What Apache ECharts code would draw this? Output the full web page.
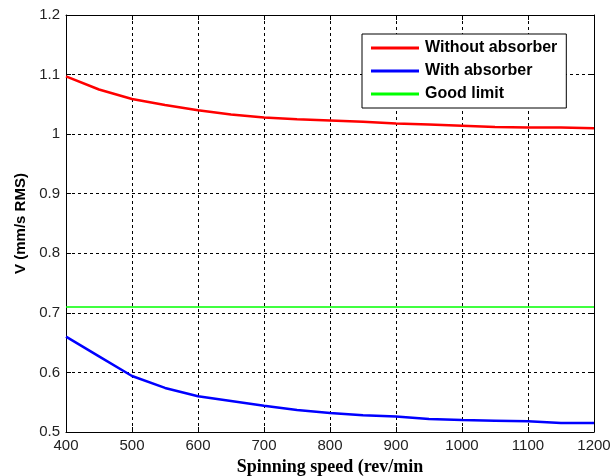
<!DOCTYPE html>
<html>
<head>
<meta charset="utf-8">
<script src="https://cdn.jsdelivr.net/npm/echarts@6/dist/echarts.min.js"></script>
<style>
  html, body { margin: 0; padding: 0; background: #fff; }
  #chart { width: 611px; height: 476px; }
</style>
</head>
<body>
<div id="chart"></div>
<script>
// data
var speeds = [400, 450, 500, 550, 600, 650, 700, 750, 800, 850, 900, 950, 1000, 1050, 1100, 1150, 1200];
var withoutAbsorber = [1.097, 1.075, 1.059, 1.049, 1.040, 1.033, 1.028, 1.025, 1.023, 1.021, 1.018, 1.016, 1.014, 1.012, 1.011, 1.011, 1.010];
var withAbsorber = [0.660, 0.627, 0.594, 0.574, 0.560, 0.552, 0.544, 0.537, 0.532, 0.528, 0.526, 0.522, 0.520, 0.519, 0.518, 0.515, 0.515];
var goodLimit = 0.71;
var xTicks = [400, 1200, 100];   // min, max, step
var yTicks = [0.5, 1.2, 0.1];

function pairs(xs, ys) {
  return xs.map(function (x, i) { return [x, ys[i]]; });
}

var myChart = echarts.init(document.getElementById('chart'));

var dashed = { show: true, lineStyle: { color: '#000', type: [3, 3], width: 1 } };
var tickLabel = { color: '#222', fontFamily: 'Liberation Sans, Arial', fontSize: 15 };

var option = {
  animation: false,
  backgroundColor: '#fff',
  grid: { left: 66, right: 17, top: 15, bottom: 44, containLabel: false, outerBoundsMode: 'none' },
  legend: {
    orient: 'vertical',
    left: 362,
    top: 34,
    padding: [6, 9, 6, 9],
    itemGap: 7,
    itemWidth: 48,
    itemHeight: 3,
    itemStyle: { borderWidth: 0 },
    icon: 'rect',
    backgroundColor: '#fff',
    borderColor: '#000',
    borderWidth: 1,
    borderRadius: 0,
    textStyle: { fontFamily: 'Liberation Sans, Arial', fontWeight: 'bold', fontSize: 16, color: '#000', padding: [0, 0, 0, 1] },
    data: ['Without absorber', 'With absorber', 'Good limit']
  },
  xAxis: [{
    type: 'value',
    min: xTicks[0], max: xTicks[1], interval: xTicks[2],
    name: 'Spinning speed (rev/min',
    nameLocation: 'middle',
    nameGap: 26,
    nameTextStyle: { fontFamily: 'Liberation Serif, Times New Roman', fontWeight: 'bold', fontSize: 18, color: '#000' },
    axisLine: { show: true, lineStyle: { color: '#000', width: 1 } },
    axisTick: { show: true, inside: true, length: 5, lineStyle: { color: '#000' } },
    axisLabel: Object.assign({ margin: 6, formatter: function (v) { return String(v); } }, tickLabel),
    splitLine: dashed
  }, {
    type: 'value', position: 'top',
    min: xTicks[0], max: xTicks[1], interval: xTicks[2],
    axisLine: { show: true, lineStyle: { color: '#000', width: 1 } },
    axisTick: { show: true, inside: true, length: 5, lineStyle: { color: '#000' } },
    axisLabel: { show: false },
    splitLine: { show: false }
  }],
  yAxis: [{
    type: 'value',
    min: yTicks[0], max: yTicks[1], interval: yTicks[2],
    name: 'V (mm/s RMS)',
    nameLocation: 'middle',
    nameGap: 34,
    nameTextStyle: { fontFamily: 'Liberation Sans, Arial', fontWeight: 'bold', fontSize: 15, color: '#000' },
    axisLine: { show: true, lineStyle: { color: '#000', width: 1 } },
    axisTick: { show: true, inside: true, length: 5, lineStyle: { color: '#000' } },
    axisLabel: Object.assign({ margin: 6, formatter: function (v) { return String(+v.toFixed(1)); } }, tickLabel),
    splitLine: dashed
  }, {
    type: 'value', position: 'right',
    min: yTicks[0], max: yTicks[1], interval: yTicks[2],
    axisLine: { show: true, lineStyle: { color: '#000', width: 1 } },
    axisTick: { show: true, inside: true, length: 5, lineStyle: { color: '#000' } },
    axisLabel: { show: false },
    splitLine: { show: false }
  }],
  series: [{
    name: 'Without absorber',
    type: 'line',
    showSymbol: false,
    color: '#ff0000',
    lineStyle: { width: 2.5, color: '#ff0000' },
    data: pairs(speeds, withoutAbsorber)
  }, {
    name: 'With absorber',
    type: 'line',
    showSymbol: false,
    color: '#0000ff',
    lineStyle: { width: 2.5, color: '#0000ff' },
    data: pairs(speeds, withAbsorber)
  }, {
    name: 'Good limit',
    type: 'line',
    showSymbol: false,
    color: '#00ff00',
    lineStyle: { width: 1.5, color: '#00ff00' },
    data: [[xTicks[0], goodLimit], [xTicks[1], goodLimit]]
  }]
};

myChart.setOption(option);
</script>
</body>
</html>
